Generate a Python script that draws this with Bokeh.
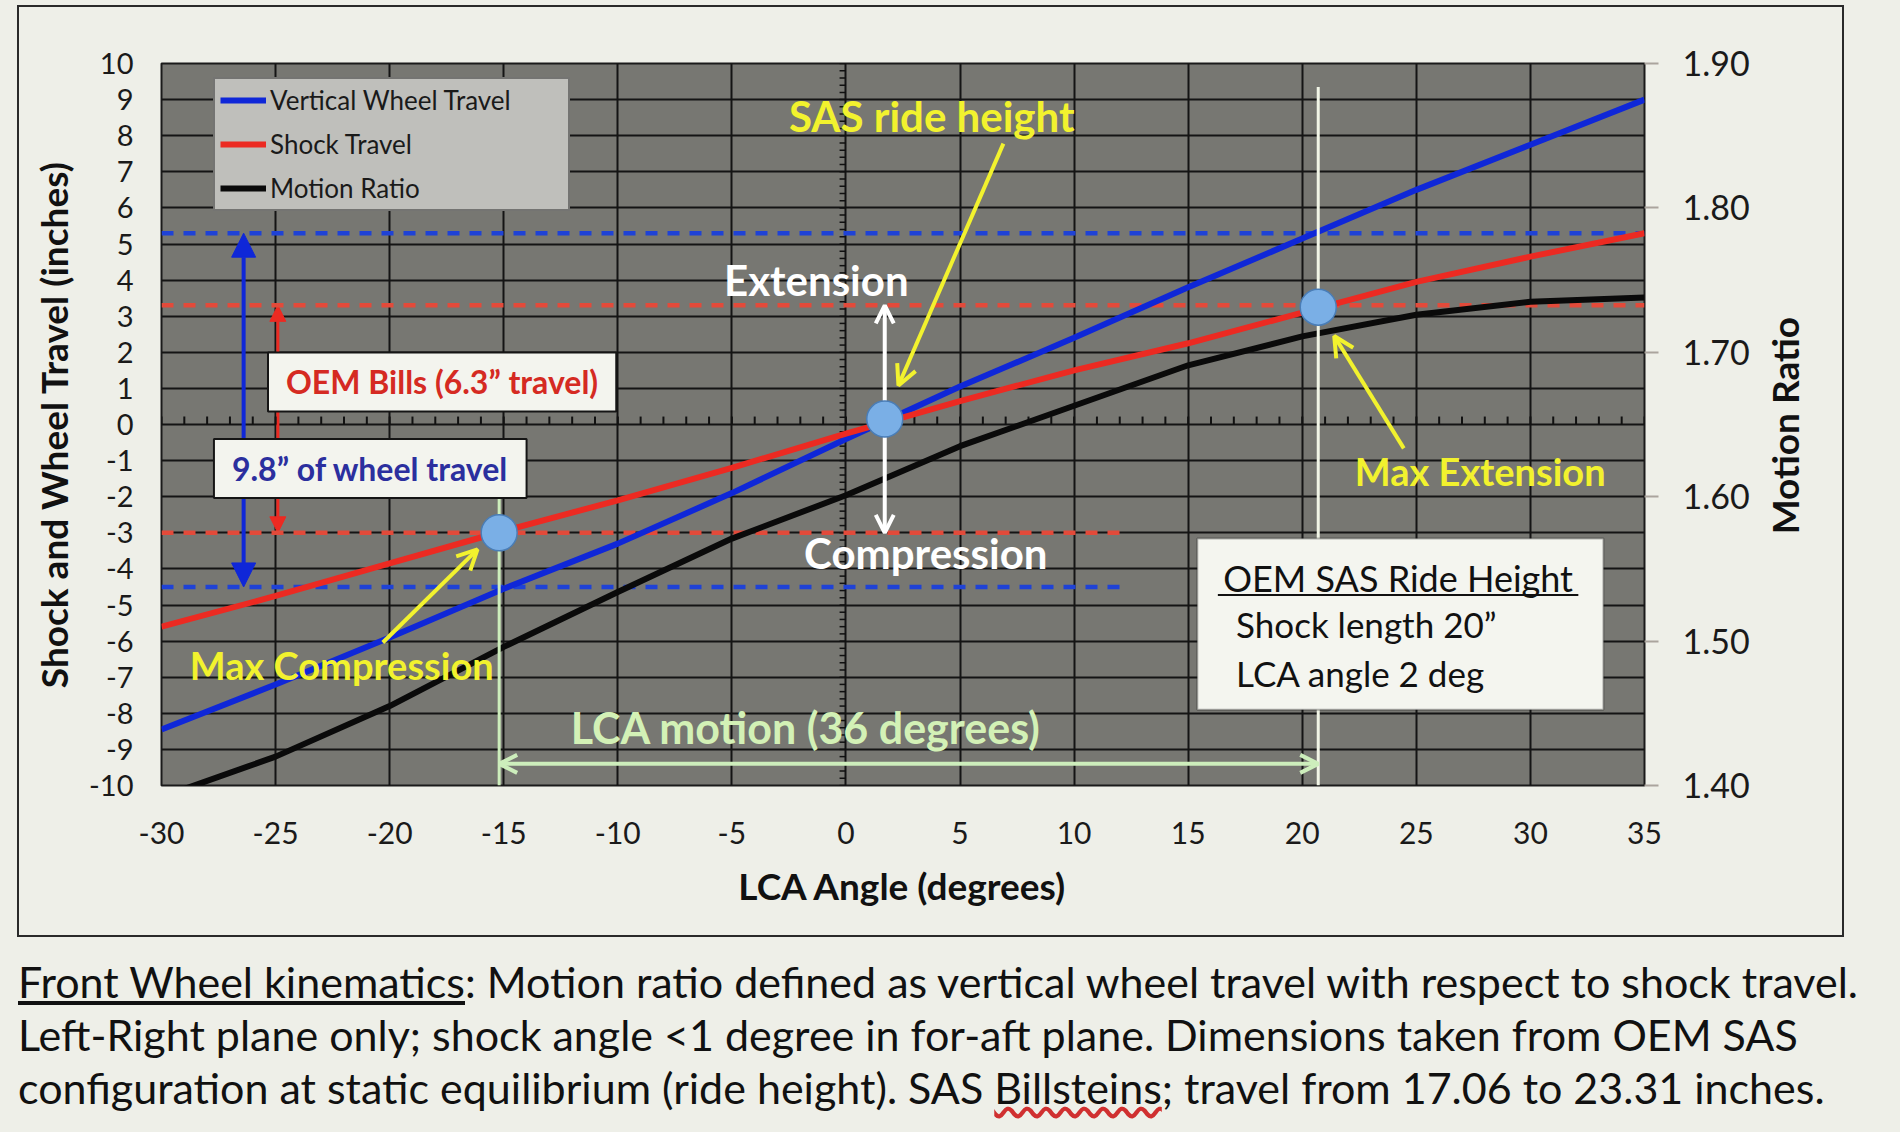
import numpy as np
from bokeh.plotting import figure
from bokeh.models import (Range1d, LinearAxis, Legend, LegendItem, Label, Arrow, NormalHead,
                          OpenHead, BoxAnnotation, Div, FixedTicker, NumeralTickFormatter)
from bokeh.layouts import column
from bokeh.embed import file_html
from bokeh.resources import INLINE

# ---------------- data ----------------
lca_angle = [-30, -25, -20, -15, -10, -5, 0, 5, 10, 15, 20, 25, 30, 35]
wheel_travel = [-8.45, -7.2, -5.9, -4.55, -3.3, -1.9, -0.4, 1.05, 2.4, 3.8, 5.15, 6.5, 7.75, 9.0]
shock_travel = [-5.6, -4.75, -3.85, -2.95, -2.1, -1.2, -0.25, 0.65, 1.5, 2.25, 3.1, 3.95, 4.65, 5.3]
motion_ratio = [1.392, 1.420, 1.455, 1.496, 1.534, 1.571, 1.601, 1.635, 1.663, 1.691, 1.711,
                1.726, 1.735, 1.738]

# max compression, ride height, max extension
marker_angle = [-15.2, 1.7, 20.7]
marker_shock = [-3.0, 0.15, 3.25]

wheel_limits = [5.3, -4.5]   # extension / compression wheel travel
shock_limits = [3.3, -3.0]   # extension / compression shock travel

x_ticks = list(range(-30, 36, 5))
y_ticks = list(range(-10, 11))
mr_ticks = [1.40, 1.50, 1.60, 1.70, 1.80, 1.90]

# ---------------- styling ----------------
FONT = "Lato"
BG = "#eeefe8"
PLOT_BG = "#777772"
BLUE = "#0f27d8"
RED = "#ec2a22"
BLACK = "#0a0a0a"
YELLOW = "#f2f22e"
GREEN = "#cdeebc"

p = figure(width=1827, height=932, x_range=Range1d(-30, 35), y_range=Range1d(-10, 10),
           output_backend="svg", toolbar_location=None,
           min_border_left=142, min_border_right=202, min_border_top=56, min_border_bottom=154,
           background_fill_color=PLOT_BG, border_fill_color=BG,
           outline_line_color="#1a1a1a", outline_line_width=2,
           margin=(5, 0, 0, 17), styles={"border": "2px solid #2a2a2a"})
p.extra_y_ranges = {"mr": Range1d(1.40, 1.90)}

# axes
xa = p.xaxis[0]
xa.ticker = FixedTicker(ticks=x_ticks)
xa.formatter = NumeralTickFormatter(format="0")
xa.axis_label = "LCA Angle (degrees)"
ya = p.yaxis[0]
ya.ticker = FixedTicker(ticks=y_ticks)
ya.formatter = NumeralTickFormatter(format="0")
ya.axis_label = "Shock and Wheel Travel (inches)"
ra = LinearAxis(y_range_name="mr", ticker=FixedTicker(ticks=mr_ticks),
                formatter=NumeralTickFormatter(format="0.00"))
p.add_layout(ra, "right")

for ax in (xa, ya, ra):
    ax.axis_line_color = None
    ax.major_tick_in = 0
    ax.minor_tick_in = 0
    ax.minor_tick_out = 0
    ax.major_label_text_font = FONT
    ax.major_label_text_color = "#1a1a1a"
    ax.axis_label_text_font = FONT
    ax.axis_label_text_font_size = "37px"
    ax.axis_label_text_font_style = "bold"
    ax.axis_label_text_color = "#111111"
xa.major_label_text_font_size = "30px"
ya.major_label_text_font_size = "29px"
ra.major_label_text_font_size = "34px"
xa.major_tick_out = 0
ya.major_tick_out = 0
xa.major_label_standoff = 36
xa.axis_label_standoff = 16
ya.major_label_standoff = 28
ya.axis_label_standoff = 10
ra.major_tick_out = 14
ra.major_tick_line_color = "#aaa49d"
ra.major_tick_line_width = 2
ra.major_label_standoff = 24

# grid
p.xgrid.ticker = FixedTicker(ticks=x_ticks)
p.ygrid.ticker = FixedTicker(ticks=y_ticks)
for g in (p.xgrid, p.ygrid):
    g.grid_line_color = "#141414"
    g.grid_line_width = 2

# small tick marks on the internal zero axes
deg_ticks = np.arange(-30, 36, 1)
p.segment(x0=deg_ticks, y0=0, x1=deg_ticks, y1=0.22, line_color="#111111", line_width=2)
fine_ticks = np.arange(-10, 10.01, 0.2)
p.segment(x0=-0.28, y0=fine_ticks, x1=0, y1=fine_ticks, line_color="#111111", line_width=1.5)

# dashed limit lines
p.segment(x0=-30, x1=[35, 12.2], y0=wheel_limits, y1=wheel_limits,
          line_color="#1f42d6", line_width=4.5, line_dash="12 10")
p.segment(x0=-30, x1=[35, 12.2], y0=shock_limits, y1=shock_limits,
          line_color="#e34a3a", line_width=4.5, line_dash="12 10")

# data series
r_w = p.line(lca_angle, wheel_travel, line_color=BLUE, line_width=6)
r_s = p.line(lca_angle, shock_travel, line_color=RED, line_width=6)
r_m = p.line(lca_angle, motion_ratio, y_range_name="mr", line_color=BLACK, line_width=6)

# vertical marker lines at max compression / max extension
p.segment(x0=marker_angle[0], x1=marker_angle[0], y0=-1.5, y1=-10, line_color=GREEN, line_width=3)
p.segment(x0=marker_angle[2], x1=marker_angle[2], y0=9.35, y1=-10, line_color="#f1f5e6", line_width=3)

# arrows
p.add_layout(Arrow(x_start=-26.4, y_start=wheel_limits[1], x_end=-26.4, y_end=wheel_limits[0],
                   line_color=BLUE, line_width=4,
                   start=NormalHead(size=24, fill_color=BLUE, line_color=BLUE),
                   end=NormalHead(size=24, fill_color=BLUE, line_color=BLUE), level="underlay"))
p.add_layout(Arrow(x_start=-24.9, y_start=shock_limits[1], x_end=-24.9, y_end=shock_limits[0],
                   line_color=RED, line_width=3,
                   start=NormalHead(size=16, fill_color=RED, line_color=RED),
                   end=NormalHead(size=16, fill_color=RED, line_color=RED), level="underlay"))
p.add_layout(Arrow(x_start=marker_angle[1], y_start=shock_limits[1], x_end=marker_angle[1],
                   y_end=shock_limits[0], line_color="white", line_width=4,
                   start=OpenHead(size=18, line_color="white", line_width=4),
                   end=OpenHead(size=18, line_color="white", line_width=4)))
p.add_layout(Arrow(x_start=marker_angle[0], y_start=-9.4, x_end=marker_angle[2], y_end=-9.4,
                   line_color=GREEN, line_width=4,
                   start=OpenHead(size=18, line_color=GREEN, line_width=4),
                   end=OpenHead(size=18, line_color=GREEN, line_width=4)))
for xs, ys, xe, ye in [(6.9, 7.78, 2.3, 1.08), (-20.3, -6.04, -16.15, -3.46), (24.45, -0.66, 21.4, 2.45)]:
    p.add_layout(Arrow(x_start=xs, y_start=ys, x_end=xe, y_end=ye, line_color=YELLOW, line_width=4,
                       end=OpenHead(size=20, line_color=YELLOW, line_width=4)))

# points
dots = p.scatter(marker_angle, marker_shock, size=36, fill_color="#7aafe6",
                 line_color="#4a7db6", line_width=1.5)
dots.level = "overlay"

# legend
legend = Legend(items=[LegendItem(label="Vertical Wheel Travel", renderers=[r_w]),
                       LegendItem(label="Shock Travel", renderers=[r_s]),
                       LegendItem(label="Motion Ratio", renderers=[r_m])],
                location=(52, 574), background_fill_color="#bfbfbb", background_fill_alpha=1,
                border_line_color="#2a2a2a", border_line_width=2,
                label_text_font=FONT, label_text_font_size="26px", label_text_color="#1a1a1a",
                glyph_width=46, glyph_height=28, label_height=28, label_width=293,
                label_standoff=4, spacing=12, padding=5, margin=0)
p.add_layout(legend)


def txt(x, y, s, color, size, bold=True, align="center", **kw):
    p.add_layout(Label(x=x, y=y, text=s, text_color=color, text_font=FONT, text_font_size=size,
                       text_font_style="bold" if bold else "normal", text_align=align,
                       text_baseline="middle", **kw))


box_kw = dict(background_fill_color="#f3f4ee", background_fill_alpha=1,
              border_line_color="#151515", border_line_width=2,
              padding=dict(left=18, right=18, top=10, bottom=10))
txt(-17.7, 1.18, "OEM Bills (6.3\u201d travel)", "#d52a22", "32px", **box_kw)
txt(-20.85, -1.22, "9.8\u201d of wheel travel", "#2b2f9e", "32px", **box_kw)

txt(3.76, 8.55, "SAS ride height", YELLOW, "42px")
txt(-1.3, 4.0, "Extension", "white", "42px")
txt(3.5, -3.55, "Compression", "white", "42px")
txt(-22.1, -6.65, "Max Compression", YELLOW, "38px")
txt(27.8, -1.3, "Max Extension", YELLOW, "38px")
txt(-1.75, -8.4, "LCA motion (36 degrees)", "#d3f1b6", "43px")

# ride-height info box
p.add_layout(BoxAnnotation(left=15.4, right=33.2, top=-3.16, bottom=-7.9, fill_color="#f4f5ef",
                           fill_alpha=1, line_color="#151515", line_width=2))
txt(24.2, -4.25, "OEM SAS Ride Height", "#111111", "36px", bold=False)
ul = p.segment(x0=16.3, x1=32.1, y0=-4.72, y1=-4.72, line_color="#111111", line_width=2)
ul.level = "overlay"
txt(17.1, -5.53, "Shock length 20\u201d", "#111111", "35px", bold=False, align="left")
txt(17.1, -6.89, "LCA angle 2 deg", "#111111", "35px", bold=False, align="left")

# right-axis title (reads bottom to top, as in the reference)
mr_title = Div(
    text=('<div style="width:60px;height:300px;display:flex;align-items:center;'
          'justify-content:center;"><span style="writing-mode:vertical-rl;'
          'transform:rotate(180deg);font-family:Lato;font-weight:bold;font-size:37px;'
          'color:#111111;white-space:nowrap;line-height:1;">Motion Ratio</span></div>'),
    width=60, height=300,
    styles={"position": "absolute", "left": "1749px", "top": "271px", "z-index": "10"})

caption = Div(
    text=('<u>Front Wheel kinematics</u>: Motion ratio defined as vertical wheel travel with respect '
          'to shock travel.<br>Left-Right plane only; shock angle &lt;1 degree in for-aft plane. '
          'Dimensions taken from OEM SAS<br>configuration at static equilibrium (ride height). SAS '
          '<span style="text-decoration: underline wavy #d03030;">Billsteins</span>; travel from '
          '17.06 to 23.31 inches.'),
    width=1880, height=170, margin=(18, 0, 0, 18),
    styles={"font-family": "Lato", "font-size": "43px", "line-height": "53px",
            "color": "#111111", "white-space": "nowrap"})

layout = column(p, caption, mr_title, width=1900, height=1132, spacing=0,
                styles={"background-color": BG})

open("out.html", "w").write(file_html(layout, INLINE))
